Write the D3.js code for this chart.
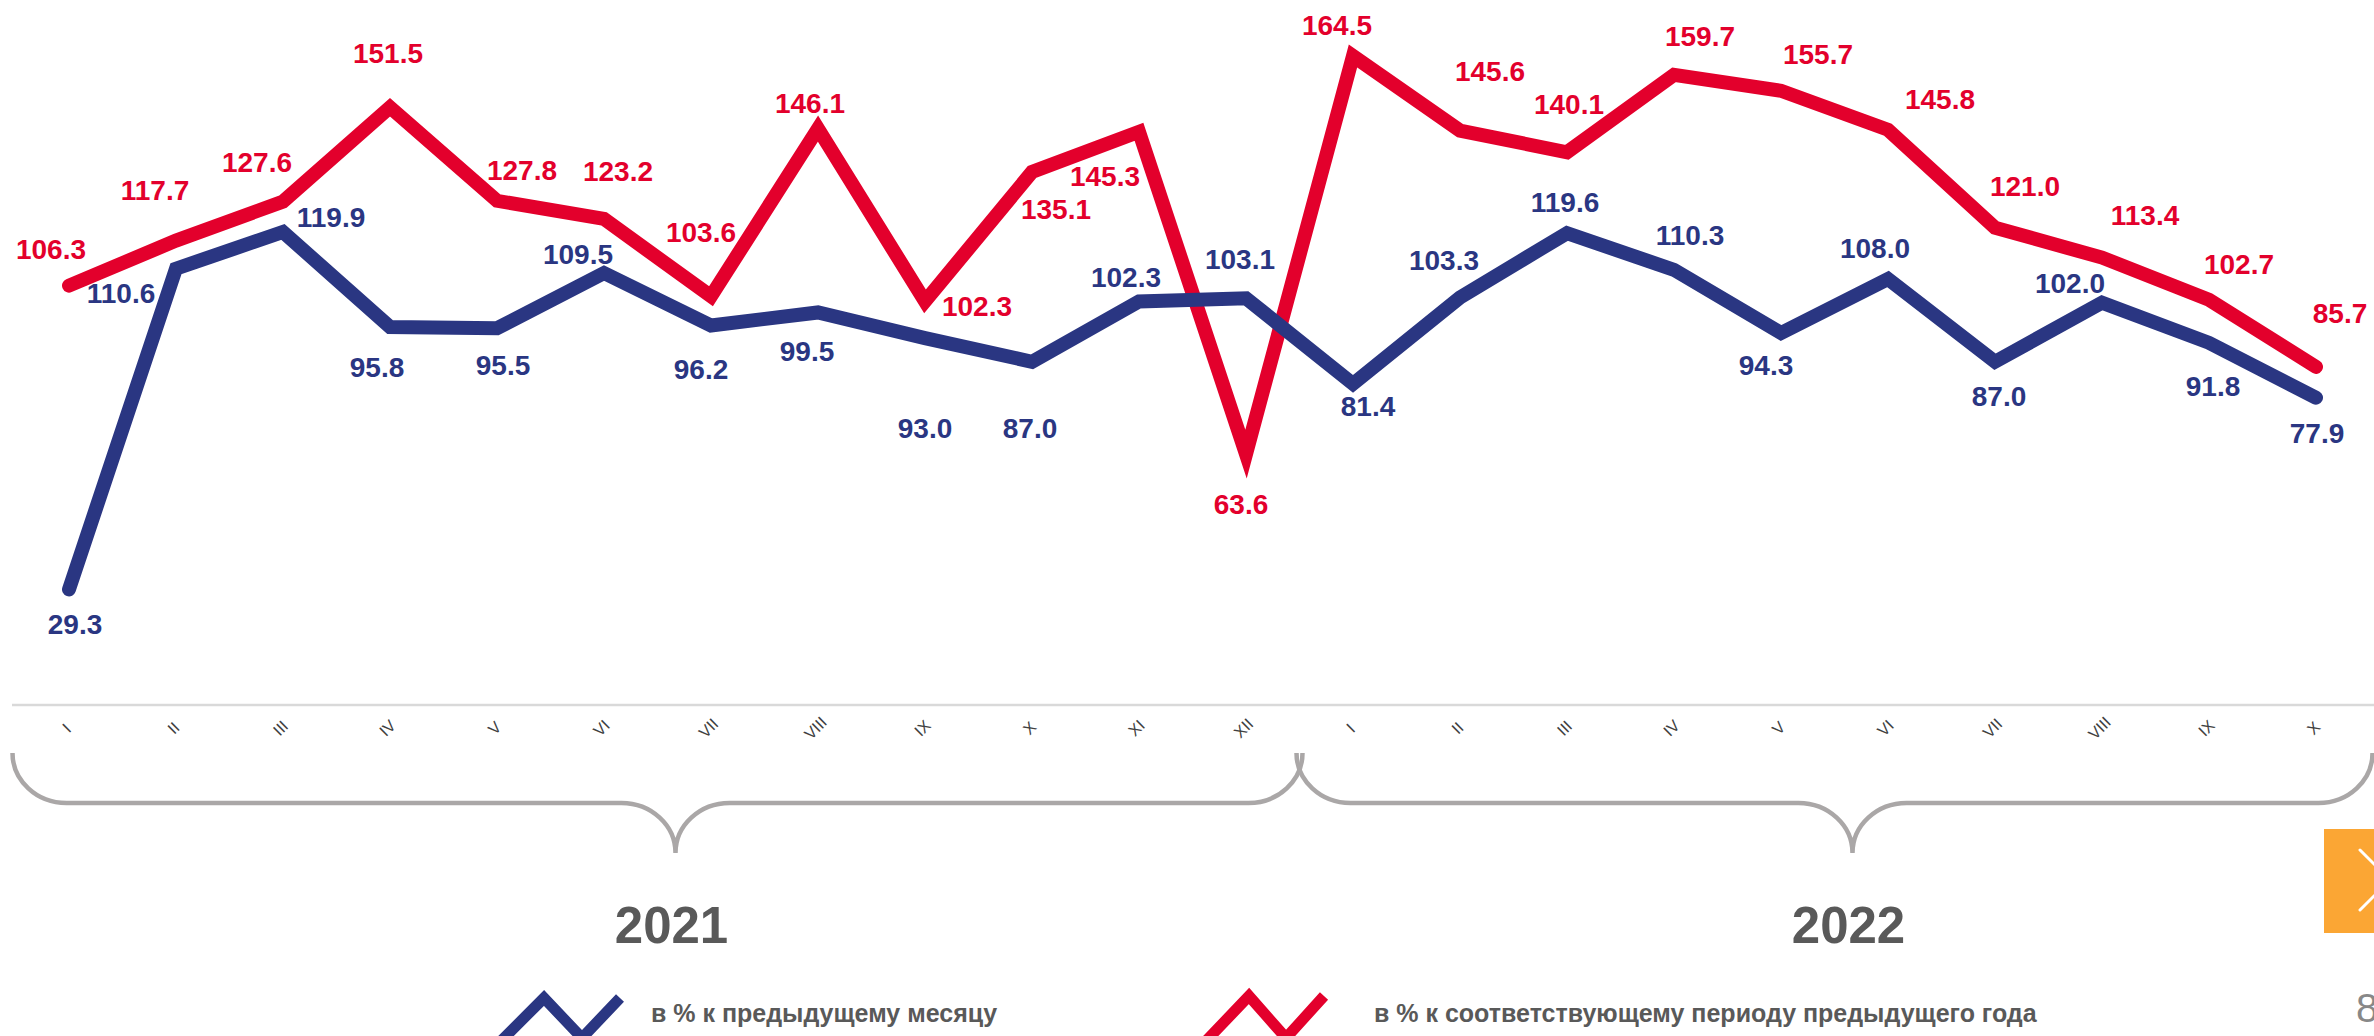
<!DOCTYPE html>
<html>
<head>
<meta charset="utf-8">
<script src="https://cdn.jsdelivr.net/npm/d3@7"></script>
<style>
  body { margin: 0; background: #fff; overflow: hidden; }
  text { font-family: "Liberation Sans", Arial, sans-serif; }
</style>
</head>
<body>
<div class="chart"></div>
<script>

// months, two years
var months = ['I', 'II', 'III', 'IV', 'V', 'VI', 'VII', 'VIII', 'IX', 'X', 'XI', 'XII',
              'I', 'II', 'III', 'IV', 'V', 'VI', 'VII', 'VIII', 'IX', 'X'];
var years = ['2021', '2022'];
var yearMonths = [12, 10];

// в % к предыдущему месяцу
var prevMonth = [29.3, 110.6, 119.9, 95.8, 95.5, 109.5, 96.2, 99.5, 93.0, 87.0, 102.3, 103.1,
                 81.4, 103.3, 119.6, 110.3, 94.3, 108.0, 87.0, 102.0, 91.8, 77.9];
// в % к соответствующему периоду предыдущего года
var prevYear = [106.3, 117.7, 127.6, 151.5, 127.8, 123.2, 103.6, 146.1, 102.3, 135.1, 145.3, 63.6,
                164.5, 145.6, 140.1, 159.7, 155.7, 145.8, 121.0, 113.4, 102.7, 85.7];

var legendNames = ['в % к предыдущему месяцу', 'в % к соответствующему периоду предыдущего года'];

// label placement (dx, dy of baseline) relative to the point
var blueLabelPos = [[6, 45], [-55, 34], [48, -5], [-13, 50], [6, 47], [-26, -9], [-10, 54], [-11, 49],
                    [0, 100], [-2, 76], [-13, -14], [-6, -29], [15, 32], [-16, -27], [-2, -21], [16, -25],
                    [-15, 42], [-13, -21], [4, 44], [-32, -10], [4, 53], [1, 45]];
var redLabelPos = [[-18, -27], [-21, -41], [-26, -30], [-2, -44], [25, -21], [14, -38], [-10, -54], [-8, -16],
                   [52, 15], [24, 47], [-34, 54], [-5, 60], [-16, -21], [30, -50], [2, -38], [26, -29],
                   [37, -27], [52, -21], [30, -32], [43, -33], [30, -26], [24, -44]];

var BLUE = '#2a3682';
var RED = '#e3002c';
var GREY = '#595959';

var width = 2374;
var height = 1036;

var svg = d3.select('.chart')
  .append('svg')
  .attr('width', width)
  .attr('height', height);

var xScale = d3.scalePoint()
  .domain(d3.range(months.length))
  .range([69, 2316]);

var yScale = d3.scaleLinear()
  .domain([0, 164.5])
  .range([705, 56]);

var step = xScale.step();

// axis line
svg.append('line')
  .attr('x1', 12)
  .attr('x2', width)
  .attr('y1', yScale(0))
  .attr('y2', yScale(0))
  .style('stroke', '#d9d9d9')
  .style('stroke-width', 2.5);

var xAxis = svg.append('g')
  .attr('transform', `translate(0, ${yScale(0)})`)
  .call(d3.axisBottom(xScale).tickSize(0).tickFormat(i => months[i]));

xAxis.select('.domain').remove();
xAxis.selectAll('text')
  .attr('y', 0)
  .attr('dy', '0.35em')
  .attr('transform', 'translate(-3, 23) rotate(-45)')
  .style('text-anchor', 'middle')
  .style('font-size', '16px')
  .style('font-family', '"Liberation Sans", Arial, sans-serif')
  .style('fill', '#404040');

// braces under each year
var start = 0;
years.forEach((yr, k) => {
  var first = start;
  var last = start + yearMonths[k] - 1;
  var left = xScale(first) - step / 2 - 3;
  var right = xScale(last) + step / 2 + 3;
  var tip = (left + right) / 2 + 18;
  var top = 753, mid = 803, bot = 853;
  var rx = 54, ry = mid - top;

  var p = `M${left},${top}` +
    ` A${rx},${ry} 0 0 0 ${left + rx},${mid}` +
    ` H${tip - rx}` +
    ` A${rx},${ry} 0 0 1 ${tip},${bot}` +
    ` A${rx},${ry} 0 0 1 ${tip + rx},${mid}` +
    ` H${right - rx}` +
    ` A${rx},${ry} 0 0 0 ${right},${top}`;

  svg.append('path')
    .attr('d', p)
    .style('fill', 'none')
    .style('stroke', '#aaa7a7')
    .style('stroke-width', 4.5);

  svg.append('text')
    .attr('x', tip - 4)
    .attr('y', 943)
    .style('text-anchor', 'middle')
    .style('font-size', '51px')
    .style('font-weight', 'bold')
    .style('fill', GREY)
    .text(yr);

  start += yearMonths[k];
});

var line = d3.line()
  .x((d, i) => xScale(i))
  .y(d => yScale(d));

var series = [
  { values: prevYear, color: RED, pos: redLabelPos },
  { values: prevMonth, color: BLUE, pos: blueLabelPos }
];

series.forEach(s => {
  svg.append('path')
    .attr('class', 'line')
    .attr('d', line(s.values))
    .style('fill', 'none')
    .style('stroke', s.color)
    .style('stroke-width', 14)
    .style('stroke-linecap', 'round')
    .style('stroke-linejoin', 'miter');
});

series.forEach(s => {
  svg.selectAll(null)
    .data(s.values)
    .enter()
    .append('text')
    .attr('x', (d, i) => xScale(i) + s.pos[i][0])
    .attr('y', (d, i) => yScale(d) + s.pos[i][1])
    .style('text-anchor', 'middle')
    .style('font-size', '28px')
    .style('font-weight', 'bold')
    .style('fill', s.color)
    .text(d => d.toFixed(1));
});

// legend
var legend = [
  { name: legendNames[0], color: BLUE, pts: [[500, 1042], [544, 998], [582, 1038], [620, 998]], tx: 651 },
  { name: legendNames[1], color: RED, pts: [[1205, 1042], [1249, 996], [1286, 1038], [1324, 996]], tx: 1374 }
];

legend.forEach(l => {
  svg.append('path')
    .attr('d', d3.line()(l.pts))
    .style('fill', 'none')
    .style('stroke', l.color)
    .style('stroke-width', 11);

  svg.append('text')
    .attr('x', l.tx)
    .attr('y', 1022)
    .style('font-size', '25px')
    .style('font-weight', 'bold')
    .style('fill', GREY)
    .text(l.name);
});

// orange navigation button and page number
svg.append('rect')
  .attr('x', 2324)
  .attr('y', 829)
  .attr('width', 60)
  .attr('height', 104)
  .style('fill', '#fba634');

svg.append('path')
  .attr('d', 'M2360,850 L2390,880 L2360,910')
  .style('fill', 'none')
  .style('stroke', '#fff')
  .style('stroke-width', 3)
  .style('stroke-linecap', 'round');

svg.append('text')
  .attr('x', 2356)
  .attr('y', 1022)
  .style('font-size', '40px')
  .style('fill', '#888888')
  .text('8');

</script>
</body>
</html>
